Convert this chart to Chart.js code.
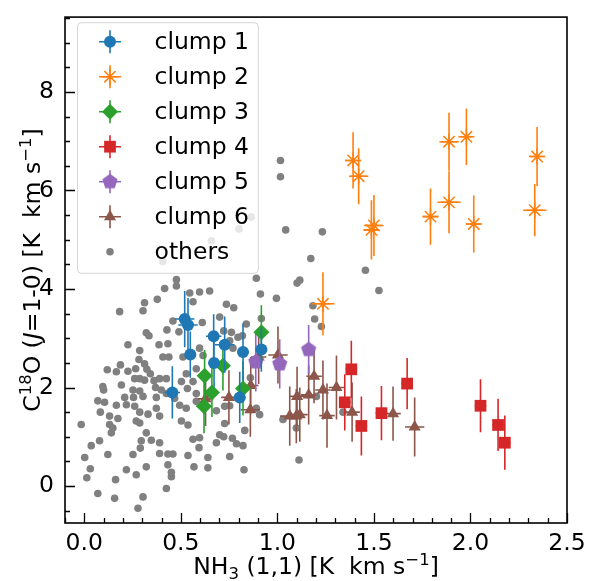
<!DOCTYPE html>
<html>
<head>
<meta charset="utf-8">
<script src="https://cdn.jsdelivr.net/npm/chart.js@4.4.0/dist/chart.umd.min.js"></script>
<style>
  html, body { margin: 0; padding: 0; background: #fff; }
</style>
</head>
<body>
<canvas id="chart" width="595" height="581"></canvas>
<script>
// C18O vs NH3 integrated intensity, clumps with error bars + field points

const xTickValues = [0, 0.5, 1, 1.5, 2, 2.5];
const yTickValues = [0, 2, 4, 6, 8];
const xMin = -0.1, xMax = 2.5, yMin = -0.75, yMax = 9.52;

const seriesNames = ["clump 1", "clump 2", "clump 3", "clump 4", "clump 5", "clump 6", "others"];

const clump1X = [0.520, 0.537, 0.549, 0.456, 0.670, 0.672, 0.727, 0.822, 0.805, 0.917];
const clump1Y = [3.39, 3.27, 2.67, 1.90, 3.04, 2.50, 2.87, 2.72, 1.80, 2.77];
const clump1XErr = [0.05, 0.05, 0.03, 0.04, 0.04, 0.03, 0.05, 0.03, 0.03, 0.03];
const clump1YErr = [0.57, 0.55, 0.47, 0.53, 0.45, 0.50, 0.57, 0.58, 0.52, 0.45];

const clump2X = [1.392, 1.421, 1.487, 1.500, 1.793, 1.889, 1.889, 1.979, 2.017, 2.345, 2.333, 1.236];
const clump2Y = [6.61, 6.29, 5.20, 5.29, 5.47, 6.99, 5.76, 7.09, 5.32, 6.69, 5.60, 3.70];
const clump2XErr = [0.04, 0.05, 0.04, 0.05, 0.04, 0.05, 0.06, 0.03, 0.04, 0.04, 0.06, 0.06];
const clump2YErr = [0.57, 0.57, 0.60, 0.62, 0.57, 0.59, 0.63, 0.57, 0.58, 0.60, 0.53, 0.64];

const clump3X = [0.917, 0.623, 0.661, 0.620, 0.718, 0.822];
const clump3Y = [3.12, 2.24, 1.90, 1.62, 2.44, 1.98];
const clump3XErr = [0.03, 0.03, 0.03, 0.04, 0.03, 0.03];
const clump3YErr = [0.55, 0.52, 0.50, 0.55, 0.50, 0.55];

const clump4X = [1.383, 1.349, 1.435, 1.539, 1.672, 2.052, 2.143, 2.178];
const clump4Y = [2.37, 1.70, 1.22, 1.48, 2.08, 1.63, 1.24, 0.88];
const clump4XErr = [0.03, 0.03, 0.03, 0.03, 0.03, 0.03, 0.03, 0.03];
const clump4YErr = [0.58, 0.57, 0.60, 0.55, 0.52, 0.54, 0.53, 0.55];

const clump5X = [0.888, 1.012, 1.162];
const clump5Y = [2.52, 2.48, 2.77];
const clump5XErr = [0.03, 0.03, 0.03];
const clump5YErr = [0.60, 0.50, 0.50];

const clump6X = [0.628, 0.749, 0.862, 0.860, 0.903, 1.003, 1.064, 1.098, 1.102, 1.116, 1.162, 1.190, 1.236, 1.257, 1.306, 1.387, 1.599, 1.711];
const clump6Y = [1.77, 1.80, 2.04, 1.55, 2.62, 2.66, 1.42, 1.42, 1.82, 1.45, 1.85, 2.23, 1.95, 1.43, 2.00, 1.50, 1.47, 1.20];
const clump6XErr = [0.04, 0.04, 0.04, 0.05, 0.04, 0.05, 0.05, 0.04, 0.04, 0.04, 0.04, 0.04, 0.04, 0.04, 0.04, 0.04, 0.04, 0.05];
const clump6YErr = [0.55, 0.55, 0.58, 0.55, 0.55, 0.58, 0.60, 0.55, 0.60, 0.55, 0.60, 0.55, 0.60, 0.65, 0.65, 0.60, 0.55, 0.60];

const othersX = [
  1.016, 1.016, 1.043, 0.865, 0.801, 0.658, 0.407, 0.891, 1.173, 1.102, 1.116, 0.477, 0.477, 0.416, 0.546, 0.597,
  0.649, 0.912, 0.995, 0.378, 0.312, 1.233, 1.456, 1.526, 1.184, 1.193, 0.304, 0.563, 0.736, 0.774, 0.183,
  0.459, 0.611, 0.701, 0.428, 0.490, 0.321, 0.335, 0.762, 0.819, 0.226, 0.387, 0.433, 0.287, 0.597, 0.615,
  0.753, 0.770, 0.511, 0.580, 0.438, 0.407, 0.119, 0.166, 0.187, 0.226, 0.266, 0.283, 0.312, 0.324, 0.342,
  0.287, 0.261, 0.312, 0.361, 0.390, 0.425, 0.369, 0.399, 0.425, 0.528, 0.503, 0.563, 0.534, 0.580, 0.096,
  0.100, 0.192, 0.252, 0.287, 0.209, 0.255, 0.304, 0.373, 0.468, 0.070, 0.105, 0.166, 0.218, 0.261, 0.494,
  0.528, 0.580, 0.083, 0.131, 0.174, 0.287, 0.330, 0.390, 0.373, 0.753, 0.908, 0.684, 0.727, 0.131, 0.148,
  0.140, 0.269, 0.287, 0.503, 0.537, -0.016, 0.563, 0.597, 0.701, 0.722, 0.767, 0.788, 0.831, 0.822, 0.321,
  0.295, 0.347, 0.390, 0.036, 0.079, 0.390, 0.433, 0.459, 0.252, 0.122, 0.002, 0.537, 0.640, 0.753, 1.112,
  0.013, 0.031, 0.070, 0.162, 0.157, 0.218, 0.269, 0.278, 0.290, 0.304, 0.321, 0.425, 0.433, 0.451, 0.451,
  0.568, 0.594, 0.640, 0.827, 0.684, 1.228, 0.839, 0.917, 0.722, 0.796, 0.860, 0.727, 0.891, 1.029, 1.098,
  1.202, 1.340
];
const othersY = [
  6.61, 6.28, 5.20, 5.46, 5.22, 4.98, 4.56, 4.22, 4.62, 4.12, 4.18, 4.19, 4.06, 4.01, 3.92, 3.94,
  3.96, 3.90, 3.81, 3.79, 3.72, 5.16, 4.38, 3.97, 3.66, 3.39, 3.56, 3.74, 3.69, 3.62, 3.54,
  3.35, 3.32, 3.43, 3.17, 3.13, 3.11, 3.05, 3.12, 3.05, 2.87, 2.87, 2.89, 2.75, 2.80, 2.65,
  2.95, 2.80, 2.62, 2.38, 2.62, 2.62, 2.36, 2.32, 2.46, 2.33, 2.38, 2.57, 2.48, 2.37, 2.28,
  2.18, 2.18, 2.15, 2.14, 2.18, 2.18, 2.00, 1.95, 1.88, 2.28, 2.12, 2.12, 1.98, 1.88, 2.02,
  1.95, 2.05, 1.95, 1.93, 1.80, 1.80, 1.82, 1.80, 1.78, 1.73, 1.70, 1.64, 1.65, 1.62, 1.64,
  1.58, 1.72, 1.50, 1.42, 1.37, 1.50, 1.46, 1.42, 1.58, 1.63, 1.45, 1.53, 1.27, 1.25, 1.18,
  1.08, 1.32, 1.28, 1.32, 1.24, 1.25, 0.95, 0.98, 1.04, 1.00, 0.97, 0.86, 1.13, 0.82, 1.08,
  0.92, 0.93, 0.88, 0.82, 0.92, 0.66, 0.65, 0.65, 0.64, 0.64, 0.58, 0.62, 0.58, 0.60, 0.53,
  0.17, 0.35, -0.15, 0.13, -0.25, 0.33, 0.23, -0.45, 0.77, -0.22, 0.39, -0.05, 0.43, 0.28, 0.19,
  0.39, 0.78, 0.37, 0.33, 0.88, 3.24, 3.29, 3.40, 3.15, 3.02, 2.20, 1.62, 1.58, 1.35, 1.18,
  1.82, 1.50
];

const FONT = "DejaVu Sans";

function pentagon(r, color) {
  const c = document.createElement("canvas");
  const s = Math.ceil(2 * r + 2);
  c.width = s; c.height = s;
  const g = c.getContext("2d");
  g.fillStyle = color;
  g.beginPath();
  for (let k = 0; k < 5; k++) {
    const a = -Math.PI / 2 + k * 2 * Math.PI / 5;
    g.lineTo(s / 2 + r * Math.cos(a), s / 2 + r * Math.sin(a));
  }
  g.closePath();
  g.fill();
  return c;
}

function points(xs, ys, xe, ye) {
  return xs.map((x, i) => ({ x: x, y: ys[i], xerr: xe ? xe[i] : 0, yerr: ye ? ye[i] : 0 }));
}

function clumpSet(name, xs, ys, xe, ye, color, style, radius, bw) {
  return {
    label: name,
    data: points(xs, ys, xe, ye),
    errColor: color,
    pointStyle: style,
    pointRadius: radius,
    pointHoverRadius: radius,
    backgroundColor: color,
    borderColor: color,
    pointBorderWidth: bw || 0
  };
}

const datasets = [
  clumpSet(seriesNames[0], clump1X, clump1Y, clump1XErr, clump1YErr, "#1f77b4", "circle", 6),
  clumpSet(seriesNames[1], clump2X, clump2Y, clump2XErr, clump2YErr, "#ff7f0e", "star", 8, 1.5),
  clumpSet(seriesNames[2], clump3X, clump3Y, clump3XErr, clump3YErr, "#2ca02c", "rectRot", 8),
  clumpSet(seriesNames[3], clump4X, clump4Y, clump4XErr, clump4YErr, "#d62728", "rect", 8.3),
  clumpSet(seriesNames[4], clump5X, clump5Y, clump5XErr, clump5YErr, "#9467bd", pentagon(8, "#9467bd"), 8),
  clumpSet(seriesNames[5], clump6X, clump6Y, clump6XErr, clump6YErr, "#8c564b", "triangle", 7),
  {
    label: seriesNames[6],
    data: points(othersX, othersY),
    pointStyle: "circle",
    pointRadius: 3.8,
    pointHoverRadius: 3.8,
    backgroundColor: "#808080",
    borderColor: "#808080",
    pointBorderWidth: 0
  }
];

// error bars drawn just before each clump's markers
const errorBars = {
  id: "errorBars",
  beforeDatasetDraw(chart, args) {
    const ds = chart.data.datasets[args.index];
    if (!ds.errColor) return;
    const ctx = chart.ctx, xs = chart.scales.x, ys = chart.scales.y;
    ctx.save();
    ctx.strokeStyle = ds.errColor;
    ctx.lineWidth = 1.6;
    ctx.beginPath();
    ds.data.forEach((p) => {
      const px = xs.getPixelForValue(p.x), py = ys.getPixelForValue(p.y);
      ctx.moveTo(px, ys.getPixelForValue(p.y - p.yerr));
      ctx.lineTo(px, ys.getPixelForValue(p.y + p.yerr));
      ctx.moveTo(xs.getPixelForValue(p.x - p.xerr), py);
      ctx.lineTo(xs.getPixelForValue(p.x + p.xerr), py);
    });
    ctx.stroke();
    ctx.restore();
  }
};

function drawRich(ctx, parts, cx, base) {
  let total = 0;
  parts.forEach((p) => {
    ctx.font = (p.italic ? "italic " : "") + p.size + "px " + FONT;
    p.w = ctx.measureText(p.t).width;
    total += p.w;
  });
  let x = cx - total / 2;
  ctx.textAlign = "left";
  ctx.textBaseline = "alphabetic";
  parts.forEach((p) => {
    ctx.font = (p.italic ? "italic " : "") + p.size + "px " + FONT;
    ctx.fillText(p.t, x, base + (p.dy || 0));
    x += p.w;
  });
}

const frameAndDecor = {
  id: "frameAndDecor",
  afterDatasetsDraw(chart) {
    const ctx = chart.ctx, a = chart.chartArea, xs = chart.scales.x, ys = chart.scales.y;
    ctx.save();
    ctx.strokeStyle = "#000";

    // inward ticks, bottom and left
    ctx.lineWidth = 1.3;
    ctx.beginPath();
    for (let k = -1; k <= 25; k++) {
      const v = k / 10;
      const major = xTickValues.some((t) => Math.abs(t - v) < 1e-6);
      const px = Math.round(xs.getPixelForValue(v)) + 0.5;
      ctx.moveTo(px, a.bottom);
      ctx.lineTo(px, a.bottom - (major ? 10 : 5));
    }
    for (let k = -1; k <= 19; k++) {
      const v = k / 2;
      if (v < yMin || v > yMax) continue;
      const major = yTickValues.some((t) => Math.abs(t - v) < 1e-6);
      const py = Math.round(ys.getPixelForValue(v)) + 0.5;
      ctx.moveTo(a.left, py);
      ctx.lineTo(a.left + (major ? 10 : 5), py);
    }
    ctx.stroke();

    ctx.lineWidth = 1.6;
    ctx.strokeRect(a.left, a.top, a.right - a.left, a.bottom - a.top);

    // legend
    const lx = 77.5, ly = 22.7, lw = 180.8, lh = 250.6;
    ctx.beginPath();
    ctx.roundRect(lx, ly, lw, lh, 4);
    ctx.fillStyle = "rgba(255,255,255,0.8)";
    ctx.fill();
    ctx.lineWidth = 1;
    ctx.strokeStyle = "rgba(204,204,204,0.8)";
    ctx.stroke();

    chart.data.datasets.forEach((ds, i) => {
      const mx = 110, my = 41.7 + i * 35;
      if (ds.errColor) {
        ctx.strokeStyle = ds.errColor;
        ctx.lineWidth = 1.6;
        ctx.beginPath();
        ctx.moveTo(mx - 11, my); ctx.lineTo(mx + 11, my);
        ctx.moveTo(mx, my - 11.5); ctx.lineTo(mx, my + 11.5);
        ctx.stroke();
      }
      ctx.fillStyle = ds.backgroundColor;
      ctx.strokeStyle = ds.borderColor;
      ctx.lineWidth = ds.pointBorderWidth;
      Chart.helpers.drawPoint(ctx, {
        pointStyle: ds.pointStyle, radius: ds.pointRadius, rotation: 0,
        borderWidth: ds.pointBorderWidth
      }, mx, my);
      ctx.fillStyle = "#000";
      ctx.font = "23.5px " + FONT;
      ctx.textAlign = "left";
      ctx.textBaseline = "middle";
      ctx.fillText(ds.label, 154.5, my + 1);
    });

    // axis titles
    ctx.fillStyle = "#000";
    drawRich(ctx, [
      { t: "NH", size: 23.5 },
      { t: "3", size: 16.5, dy: 5 },
      { t: " (1,1) [K  km s", size: 23.5 },
      { t: "\u22121", size: 16.5, dy: -9 },
      { t: "]", size: 23.5 }
    ], (a.left + a.right) / 2, 574);

    ctx.save();
    ctx.translate(40, (a.top + a.bottom) / 2);
    ctx.rotate(-Math.PI / 2);
    drawRich(ctx, [
      { t: "C", size: 23.5 },
      { t: "18", size: 16.5, dy: -9 },
      { t: "O (", size: 23.5 },
      { t: "J", size: 23.5, italic: true },
      { t: "=1-0) [K  km s", size: 23.5 },
      { t: "\u22121", size: 16.5, dy: -9 },
      { t: "]", size: 23.5 }
    ], 0, 0);
    ctx.restore();

    ctx.restore();
  }
};

new Chart(document.getElementById("chart"), {
  type: "scatter",
  data: { datasets: datasets },
  options: {
    responsive: false,
    animation: false,
    devicePixelRatio: 1,
    layout: { padding: { top: 10.7, right: 28, left: 0, bottom: 0 } },
    plugins: { legend: { display: false }, tooltip: { enabled: false } },
    scales: {
      x: {
        type: "linear",
        min: xMin,
        max: xMax,
        grid: { display: false },
        border: { display: false },
        afterBuildTicks: (s) => { s.ticks = xTickValues.map((v) => ({ value: v })); },
        afterFit: (s) => { s.height = 58; },
        ticks: {
          color: "#000",
          font: { family: FONT, size: 23.5 },
          padding: -1,
          maxRotation: 0,
          autoSkip: false,
          callback: (v) => Number(v).toFixed(1)
        }
      },
      y: {
        type: "linear",
        min: yMin,
        max: yMax,
        grid: { display: false },
        border: { display: false },
        afterBuildTicks: (s) => { s.ticks = yTickValues.map((v) => ({ value: v })); },
        afterFit: (s) => { s.width = 65; },
        ticks: {
          color: "#000",
          font: { family: FONT, size: 23.5 },
          padding: 3,
          autoSkip: false,
          callback: (v) => String(v)
        }
      }
    }
  },
  plugins: [errorBars, frameAndDecor]
});
</script>
</body>
</html>
